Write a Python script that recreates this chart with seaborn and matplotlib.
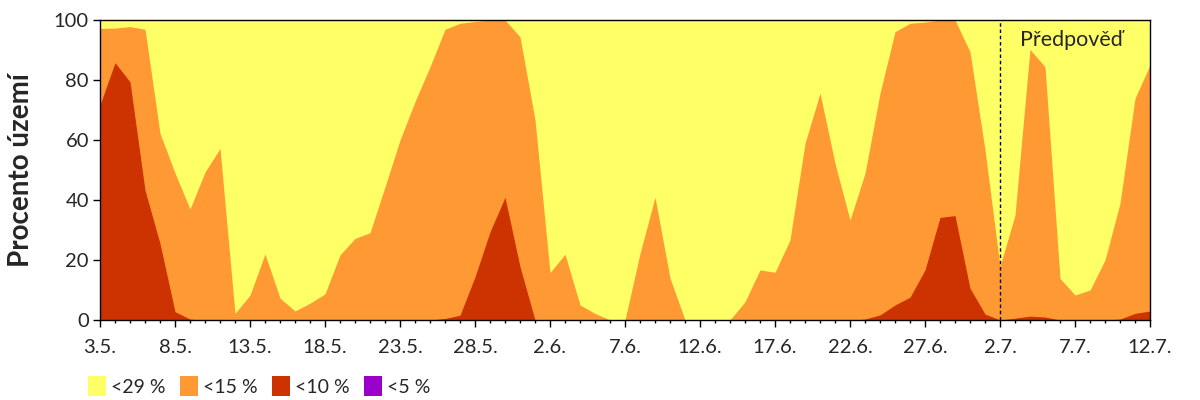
import pandas as pd
import matplotlib
matplotlib.use("Agg")
import matplotlib.pyplot as plt
import matplotlib.dates as mdates
from matplotlib.patches import Patch
from matplotlib.ticker import FuncFormatter
import seaborn as sns

sns.set_style("ticks")
plt.rcParams['font.family'] = ['Lato', 'DejaVu Sans']

# --- data: daily share of territory (%) under each threshold (cumulative) ---
dates = pd.date_range("2019-05-03", "2019-07-12", freq="D")
forecast_start = pd.Timestamp("2019-07-02")

below_29 = [100] * len(dates)
below_15 = [
    97.2, 97.3, 97.8, 96.9, 62.2, 49.0, 37.0, 49.3, 57.2, 2.2,
    8.3, 22.0, 7.3, 3.0, 5.6, 8.7, 21.7, 27.2, 29.1, 44.4,
    60.0, 72.8, 84.4, 96.9, 98.9, 99.5, 100.0, 100.0, 94.4, 66.7,
    15.8, 21.9, 5.0, 2.2, 0.0, 0.0, 22.2, 40.9, 14.0, 0.0,
    0.0, 0.0, 0.0, 6.1, 16.7, 15.9, 26.7, 58.9, 75.6, 52.2,
    33.3, 48.9, 75.6, 96.1, 98.9, 99.3, 100.0, 100.0, 89.4, 56.7,
    17.8, 35.0, 90.2, 84.4, 13.9, 8.3, 10.0, 20.0, 38.9, 73.9,
    85.0,
]
below_10 = [
    71.7, 85.8, 79.4, 43.3, 25.5, 2.8, 0.3, 0.0, 0.0, 0.0,
    0.0, 0.0, 0.0, 0.0, 0.0, 0.0, 0.0, 0.0, 0.0, 0.0,
    0.0, 0.0, 0.0, 0.5, 1.6, 14.4, 29.4, 40.9, 17.8, 0.0,
    0.0, 0.0, 0.0, 0.0, 0.0, 0.0, 0.0, 0.0, 0.0, 0.0,
    0.0, 0.0, 0.0, 0.0, 0.0, 0.0, 0.0, 0.0, 0.0, 0.0,
    0.0, 0.3, 1.7, 5.0, 7.6, 16.7, 34.2, 34.8, 10.6, 2.0,
    0.0, 0.6, 1.3, 1.0, 0.0, 0.0, 0.0, 0.0, 0.3, 2.2,
    3.0,
]
below_5 = [0] * len(dates)

labels = ["<29 %", "<15 %", "<10 %", "<5 %"]
colors = ["#FFFF66", "#FF9933", "#CC3300", "#9900CC"]

fig = plt.figure(figsize=(12, 4), dpi=100)
ax = fig.add_axes([100 / 1200, 80 / 400, 1050 / 1200, 300 / 400])

for series, col in zip([below_29, below_15, below_10, below_5], colors):
    ax.fill_between(dates, 0, series, color=col, linewidth=0)

ax.axvline(forecast_start, color="black", linestyle=(0, (2.5, 2)), linewidth=1)
ax.text(forecast_start + pd.Timedelta(days=1.3), 93.3, "Předpověď",
        fontsize=15.5, ha="left", va="center")

ax.set_xlim(dates[0], dates[-1])
ax.set_ylim(0, 100)
ax.set_yticks([0, 20, 40, 60, 80, 100])
ax.set_xticks(dates[::5])
ax.xaxis.set_minor_locator(mdates.DayLocator())
ax.xaxis.set_major_formatter(FuncFormatter(
    lambda v, pos: f"{mdates.num2date(v).day}.{mdates.num2date(v).month}."))

ax.tick_params(axis="both", which="major", labelsize=14.5, direction="out",
               length=5, width=1, color="black", pad=3)
ax.tick_params(axis="x", which="major", pad=9)
ax.tick_params(axis="x", which="minor", length=2.5, width=1, color="black")
for s in ax.spines.values():
    s.set_color("black")
    s.set_linewidth(1)
    s.set_visible(True)

ax.set_ylabel("Procento území", fontsize=20, fontweight="bold", va="center")
ax.yaxis.set_label_coords(-0.075, 0.5)

handles = [Patch(facecolor=c, edgecolor="none") for c in colors]
fig.legend(handles, labels, loc="lower left", bbox_to_anchor=(0.062, -0.025),
           ncol=4, frameon=False, fontsize=14, handlelength=0.95,
           handleheight=1.2, handletextpad=0.22, columnspacing=0.75,
           borderpad=0.2)

fig.savefig("out.png", dpi=100)
